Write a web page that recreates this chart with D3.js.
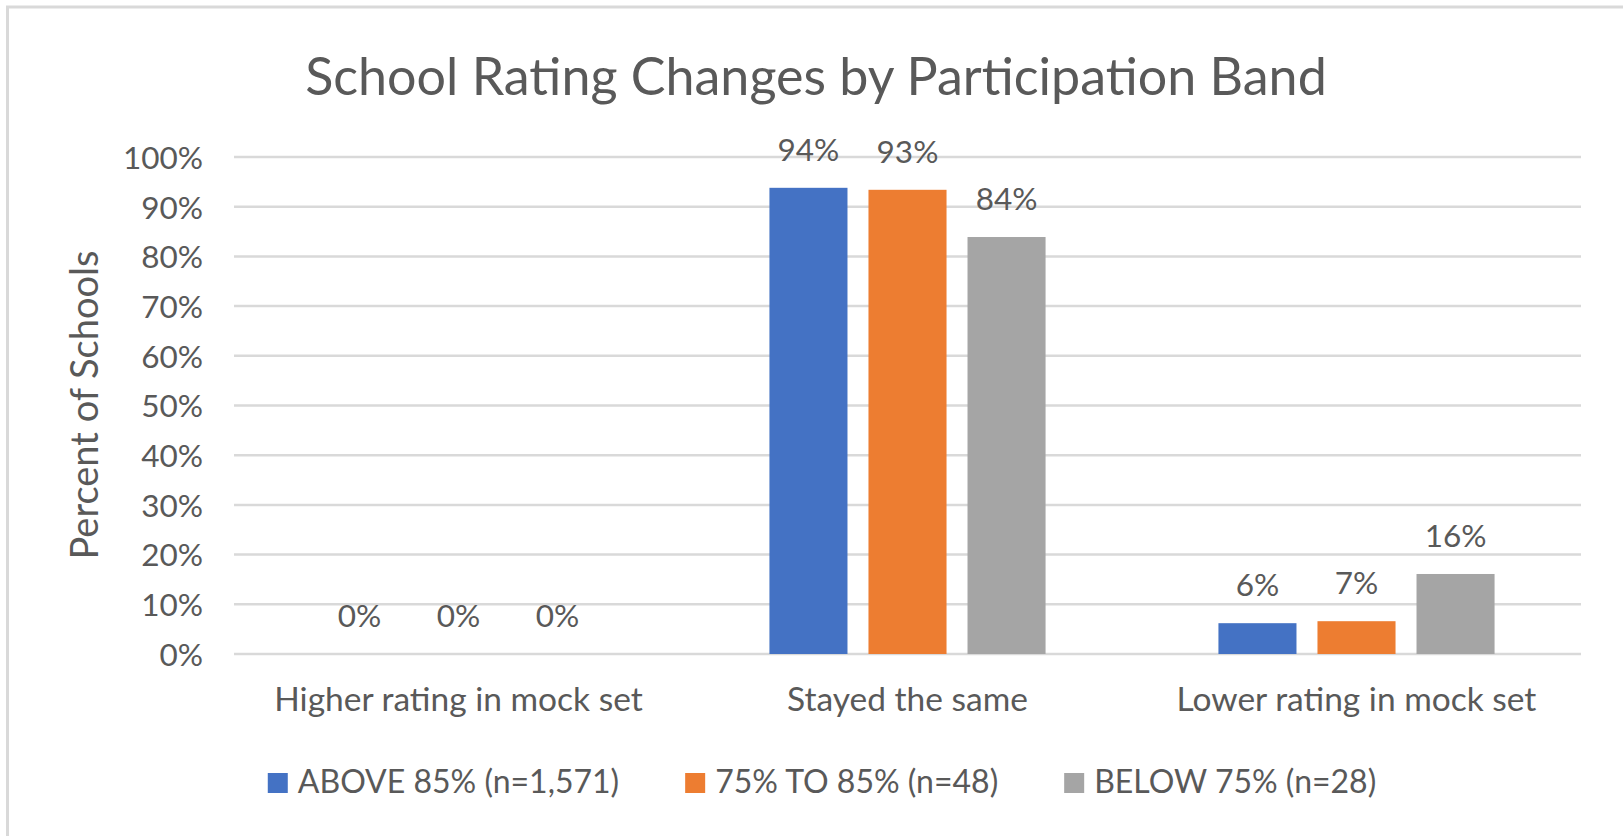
<!DOCTYPE html>
<html lang="en">
<head>
<meta charset="utf-8">
<script src="https://d3js.org/d3.v7.min.js"></script>
<style>
  body { margin: 0; background: #fff; }
  text { font-family: Lato, "Open Sans", sans-serif; fill: #595959; }
</style>
</head>
<body>
</body>
<script type="text/javascript">

var categories = ["Higher rating in mock set", "Stayed the same", "Lower rating in mock set"];
var seriesNames = ["ABOVE 85% (n=1,571)", "75% TO 85% (n=48)", "BELOW 75% (n=28)"];
var above85 = [0, 0.938, 0.062];
var from75to85 = [0, 0.934, 0.066];
var below75 = [0, 0.839, 0.161];
var yTicks = [0, 0.1, 0.2, 0.3, 0.4, 0.5, 0.6, 0.7, 0.8, 0.9, 1];
var colors = ["#4472C4", "#ED7D31", "#A5A5A5"];

var seriesValues = [above85, from75to85, below75];

var width = 1623, height = 836;

var svg = d3.select("body")
  .append("svg")
  .attr("width", width)
  .attr("height", height);

// chart area border (runs off the bottom/right edge like the screenshot)
svg.append("rect")
  .attr("x", 7.5).attr("y", 7)
  .attr("width", width + 20).attr("height", height + 20)
  .attr("fill", "none")
  .attr("stroke", "#D9D9D9")
  .attr("stroke-width", 3);

var y = d3.scaleLinear().domain([0, 1]).range([654, 157]);

var x0 = d3.scaleBand()
  .domain(categories)
  .range([234, 1581])
  .paddingInner(0.385)
  .paddingOuter(0.1925);

var x1 = d3.scaleBand()
  .domain(seriesNames)
  .range([0, x0.bandwidth()])
  .paddingInner(0.212)
  .paddingOuter(0);

// gridlines
svg.append("g")
  .selectAll("line")
  .data(yTicks)
  .enter()
  .append("line")
  .attr("x1", 234)
  .attr("x2", 1581)
  .attr("y1", function (d) { return y(d); })
  .attr("y2", function (d) { return y(d); })
  .attr("stroke", "#D9D9D9")
  .attr("stroke-width", 2.5);

// y axis labels
var yAxis = d3.axisLeft(y).tickValues(yTicks).tickFormat(d3.format(".0%")).tickSize(0).tickPadding(0);
var gy = svg.append("g").attr("transform", "translate(203,0)").call(yAxis);
gy.select(".domain").remove();
gy.selectAll("text")
  .attr("dy", "0.36em")
  .style("font-family", "Lato")
  .style("font-size", "31.5px")
  .style("fill", "#595959");

// x axis labels
var xAxis = d3.axisBottom(x0).tickSize(0).tickPadding(0);
var gx = svg.append("g").attr("transform", "translate(0,711)").call(xAxis);
gx.select(".domain").remove();
gx.selectAll("text")
  .attr("dy", 0)
  .attr("y", 0)
  .style("font-family", "Lato")
  .style("font-size", "33.5px")
  .style("fill", "#595959");

// bars
var rows = [];
categories.forEach(function (c, i) {
  seriesNames.forEach(function (s, j) {
    rows.push({ cat: c, series: s, value: seriesValues[j][i], color: colors[j] });
  });
});

var bars = svg.append("g");
bars.selectAll("rect")
  .data(rows)
  .enter()
  .append("rect")
  .attr("x", function (d) { return x0(d.cat) + x1(d.series); })
  .attr("y", function (d) { return y(d.value); })
  .attr("width", x1.bandwidth())
  .attr("height", function (d) { return y(0) - y(d.value); })
  .attr("fill", function (d) { return d.color; });

bars.selectAll("text")
  .data(rows)
  .enter()
  .append("text")
  .attr("x", function (d) { return x0(d.cat) + x1(d.series) + x1.bandwidth() / 2; })
  .attr("y", function (d) { return y(d.value) - 27; })
  .attr("text-anchor", "middle")
  .style("font-size", "31.5px")
  .text(function (d) { return d3.format(".0%")(d.value); });

// title
svg.append("text")
  .attr("x", 816)
  .attr("y", 95)
  .attr("text-anchor", "middle")
  .style("font-size", "52px")
  .text("School Rating Changes by Participation Band");

// y axis title
svg.append("text")
  .attr("transform", "translate(98,405) rotate(-90)")
  .attr("text-anchor", "middle")
  .style("font-size", "38px")
  .text("Percent of Schools");

// legend
var legend = svg.append("g").attr("transform", "translate(0,793)");
var items = legend.selectAll("g")
  .data(seriesNames)
  .enter()
  .append("g");

items.append("rect")
  .attr("x", 0).attr("y", -20)
  .attr("width", 20).attr("height", 20)
  .attr("fill", function (d, i) { return colors[i]; });

items.append("text")
  .attr("x", 30)
  .attr("y", 0)
  .style("font-size", "32px")
  .text(function (d) { return d; });

var offsets = [], pos = 0;
items.each(function () {
  offsets.push(pos);
  pos += 30 + this.querySelector("text").getComputedTextLength() + 66;
});
var total = pos - 66;
var startX = 822 - total / 2;
items.attr("transform", function (d, i) { return "translate(" + (startX + offsets[i]) + ",0)"; });

</script>
</html>
